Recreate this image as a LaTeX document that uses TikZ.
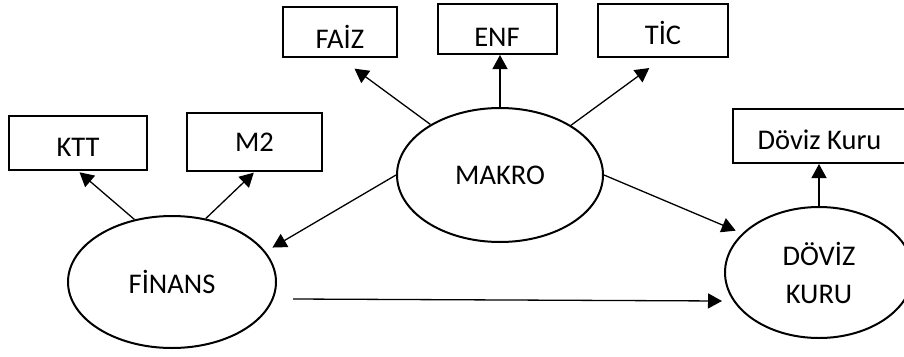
\documentclass[tikz,border=0pt]{standalone}
\usepackage{fontspec}
\setmainfont{Carlito}
\usetikzlibrary{shapes.geometric,arrows.meta}
\begin{document}
\begin{tikzpicture}[x=1pt,y=-1pt,
  every node/.style={font=\fontsize{28.5}{38}\selectfont, text=black, inner sep=0pt},
  varbox/.style={draw, line width=2pt, rectangle, text depth=0pt},
  latent/.style={draw, line width=2pt, ellipse, align=center},
  arr/.style={line width=1.3pt, -{Triangle[length=14pt,width=15pt]}}]
\useasboundingbox (0,0) rectangle (904,356);
% boxes
\node[varbox, text height=27.4pt, minimum width=138pt, minimum height=54pt] (ktt) at (78,143) {KTT};
\node[varbox, text height=18.4pt, minimum width=135pt, minimum height=58pt] (m2) at (254.5,142) {M2};
\node[varbox, text height=33.4pt, minimum width=114pt, minimum height=50pt] (faiz) at (340,32) {FAİZ};
\node[varbox, text height=34.4pt, minimum width=119pt, minimum height=50pt] (enf) at (497,29) {ENF};
\node[varbox, text height=27.4pt, minimum width=130pt, minimum height=53pt] (tic) at (663,30.5) {TİC};
\node[varbox, text height=27.4pt, minimum width=173pt, minimum height=54pt] (dkbox) at (819.5,136) {Döviz Kuru};
% ellipses
\node[latent, minimum width=208pt, minimum height=132pt] (fin) at (172,282) {FİNANS};
\node[latent, minimum width=206pt, minimum height=134pt] (makro) at (500,175) {MAKRO};
\node[latent, minimum width=188pt, minimum height=131pt] (dk) at (819,272.5) {DÖVİZ\\KURU};
% connectors
\draw[arr, shorten >=2pt] (fin.121) -- (ktt.south);
\draw[arr, shorten >=1pt] (fin.62) -- (m2.south);
\draw[arr, shorten >=18pt] (makro.144) -- (faiz.south);
\draw[arr] (makro.north) -- (makro.north |- enf.south);
\draw[arr, shorten >=17pt] (makro.35) -- (tic.south);
\draw[arr, shorten >=8pt] (makro.west) -- (fin.18);
\draw[arr, shorten >=7pt] (makro.east) -- (dk.153);
\draw[arr] ([shift={(16,17)}]fin.east) -- ([shift={(-2,28.5)}]dk.west);
\draw[arr] (dk.north) -- (dk.north |- dkbox.south);
\end{tikzpicture}
\end{document}
